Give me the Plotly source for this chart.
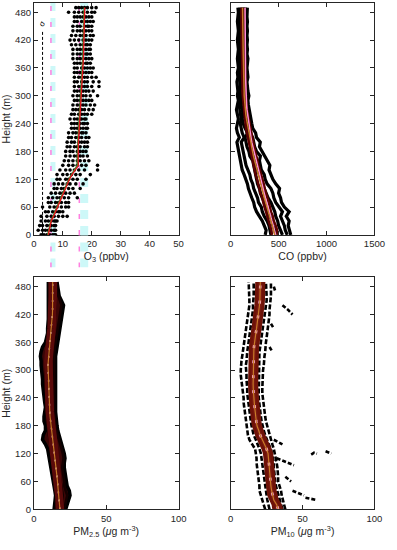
import plotly.graph_objects as go

heights = [0,10,20,30,40,50,60,70,80,90,100,110,120,130,140,150,160,170,180,190,
           200,210,220,230,240,250,260,270,280,290,300,310,320,330,340,350,360,370,380,390,
           400,410,420,430,440,450,460,470,480,490]

# ---- O3 (ppbv) individual samples (dots), 7 profiles
o3_a = [2.5,1.5,2,2.5,2.5,4,3,5,5,6,7,7,8,8,9,10,10.5,11,11,11.5,11.5,12,12,13,13,12.5,13,13.5,13.5,14,13.5,14,14,14,14,14,14,14,13.5,13.5,13.5,13,12.5,13,13.5,13.5,14,14,12,14.5]
o3_b = [3.5,3,3,4,4.5,5,5.5,6,6.5,7.5,8,8.5,9,10,11,12,12,12.5,12.5,12.5,13,13,13.5,14,14,14,14,14.5,15,15,15,15,15.5,15,15.5,15,15,15,15,15,15,14.5,14,14.5,15,15,15,15,14,15.5]
o3_c = [4.5,4,4.5,5,6,6.5,7,7.5,8,9,9.5,10,11,11.5,12.5,13.5,13.5,14,13.5,14,14,14.5,14.5,15,15,15,15.5,15.5,16,16,16,16,16.5,16.5,16.5,16,16.5,16,16,16,16,16,15.5,16,16,16,16.5,16,15.5,16.5]
o3_d = [5.5,5,5.5,6,7,7.5,8,8.5,9,10,10.5,11.5,12,13,14,15,15,15,15,15,15.5,15.5,15.5,16,16,16,16.5,16.5,17,17,17,17,17.5,17.5,17.5,17,17.5,17,17,17,17,17,17,17,17,17.5,17.5,17,17,17.5]
o3_e = [6.5,6,6,7,8.5,8.5,9.5,9.5,10.5,11,12,12.5,13.5,14.5,15.5,16.5,16,16,16,16,16.5,16.5,16.5,17,17,16.5,17.5,17.5,18,18,18,18,18.5,18.5,18.5,18,18.5,18,18,18,18,18,18,18,18,18.5,18.5,18,18.5,18.5]
o3_f = [7,7,7,7.5,10,9,11,11,12,12.5,13.5,14.5,15,16,17.5,18,17.5,17,17,17.5,17.5,18,17,18,17.5,17.5,18.5,19,19.5,19,19.5,19,20,20.5,20,19,19.5,18.5,19,18.5,19,18.5,19,19.5,19,19,19.5,19,20,20]
o3_g = [7.5,7.5,7.5,8,11.5,10,12,12,15,14,16,17,18,19.5,22,22,19,18.5,18,18.5,18.5,19,18,18.5,18.5,18,20,20.5,21,20,22,20.5,22.5,22.5,21.5,20,20.5,19.5,20,19.5,19.5,19.5,20,20.5,20,20,20.5,20,21,21.5]
o3_mean = [5,5.3,5.6,6,6.8,7.5,8.2,8.8,9.5,10.2,10.8,11.6,12.3,13.2,14.2,15.4,15.3,15.3,15.2,15.3,15.4,15.5,15.6,15.8,15.9,16,16.1,16.2,16.3,16.4,16.5,16.6,16.7,16.8,16.9,17,17,17.1,17.1,17.2,17.2,17.3,17.3,17.3,17.4,17.4,17.5,17.5,17.6,17.6]
o3_fit = [4.8,5.1,5.5,5.9,6.6,7.3,8,8.6,9.3,10,10.6,11.4,12.1,13,14,15,15,15,15,15.1,15.2,15.3,15.4,15.6,15.7,15.8,15.9,16,16.1,16.2,16.3,16.4,16.5,16.6,16.7,16.8,16.8,16.9,16.9,17,17,17.1,17.1,17.1,17.2,17.2,17.3,17.3,17.4,17.4]
o3_ref_x = [6.6, 17.4]     # light cyan dashed reference lines
o3_ref_w = [5, 8]
o3_ref2_x = [5.9, 15.7]    # pink dashed reference lines
o3_sigma_x = 3
o3_sigma_top = 440

# ---- CO (ppbv)
co_black = [
 [360,370,350,330,300,270,250,240,220,200,185,175,160,140,120,110,100,90,80,70,65,90,70,60,70,80,70,60,70,80,70,75,70,65,75,70,80,75,70,75,80,75,70,75,80,75,70,75,80,75],
 [420,410,400,380,350,330,320,290,280,260,240,230,210,200,180,160,150,140,130,120,110,140,120,110,100,110,100,95,90,100,95,90,100,95,90,100,95,90,100,95,90,100,95,90,95,100,95,90,95,100],
 [470,460,440,430,410,380,360,350,330,310,300,280,270,260,250,240,230,200,190,170,160,150,180,150,130,120,130,120,110,120,115,110,115,120,110,115,120,110,115,120,115,110,115,120,115,110,115,120,115,120],
 [540,520,500,490,470,460,440,420,390,370,350,330,320,300,280,270,260,240,230,210,200,190,170,160,180,170,150,140,150,140,135,140,130,135,140,130,135,140,130,135,140,130,135,140,130,135,140,135,130,140],
 [590,570,560,540,520,540,500,470,450,440,420,380,360,350,320,310,300,310,270,250,240,230,200,190,180,200,180,170,160,170,160,155,160,150,155,160,150,155,160,150,155,160,150,155,160,150,155,160,150,155],
 [627,610,600,610,580,610,560,530,520,500,510,470,440,420,400,409,380,350,320,300,309,270,260,230,220,210,200,190,185,180,190,180,175,170,180,175,170,175,180,170,175,170,175,170,175,170,175,170,175,174],
]
co_red = [
 [430,425,410,395,385,370,350,340,330,310,300,290,275,260,250,240,225,215,205,195,185,180,170,160,155,150,140,135,130,128,125,122,124,120,122,118,120,118,116,118,115,116,114,115,113,114,112,113,112,113],
 [490,485,470,450,440,420,410,395,380,370,355,345,330,315,300,290,280,265,255,245,235,225,215,205,195,185,178,170,165,160,158,155,156,152,153,150,151,149,150,148,147,148,146,147,145,146,144,145,144,145],
]
co_pink = [470,460,445,430,415,400,388,375,362,350,338,325,312,298,285,272,262,250,240,230,220,212,204,195,188,182,176,170,166,163,160,158,157,156,155,155,154,154,153,153,152,152,152,151,151,151,150,150,150,150]
co_mean = [460,450,435,420,405,390,378,365,350,338,325,312,300,285,272,260,250,238,228,218,208,198,190,180,172,165,158,152,147,143,141,140,138,137,136,135,134,133,132,131,130,129,128,128,127,126,126,125,125,124]

# ---- PM2.5 (ug m-3)
pm25_black = [
 [14,14.5,15,15,14.5,14,13,12.5,12,11.5,11,10.5,10,9.5,8,6,6.5,8,8,7,7,7.5,8,7.5,7,7,6.5,6,6,5.5,5,5,5,4.5,5,6,8,9,9.5,9.5,10,10,10,10,10,10,10,10,10,10],
 [15,15.5,16,16.5,16,15.5,15,14.5,14,13.5,13,12.5,12,11.5,11,10.5,10,9.5,9.5,9,9,9,9,9,8.5,8.5,8,8,8,7.5,7.5,8,8,8.5,9,9.5,10,10.5,11,11,11.5,11.5,12,12,12,12,12,12,12,12],
 [17,17,17.5,17.5,17,17,16.5,16,15.5,15,14.5,14,13.5,13,12.5,12,11.5,11,11,10.5,10.5,10.5,10,10,10,9.5,9.5,9,9,9,9,9.5,9.5,10,10,10.5,11,11.5,12,12,12.5,12.5,13,13,13,13,13,13,13,13],
 [19,19.5,20,20,19.5,19,18.5,18,17.5,17,16.5,16,15.5,15,14.5,14,13.5,13,12.5,12,12,12,11.5,11.5,11.5,11,11,11,11,10.5,10.5,11,11,11.5,12,12,12.5,13,13.5,14,14,14.5,14.5,15,15,15,15,14.5,14.5,14.5],
 [21,21.5,22,23,22,21,21,20.5,20,19.5,20,20.5,20,19,18,17,16,15.5,15,14.5,14.5,14,14,14,13.5,13.5,13.5,13.5,13.5,13.5,13.5,13.5,13.5,13.5,14,14.5,15,15.5,16,16.5,17,17.5,18,18.5,19,18,17,16,16,16],
 [22,23,24,25,24.5,23,22.5,22,21,21,21,21.5,21,20,19,18,17,16.5,16,15.5,15,15,15,15,14.5,14.5,15,15,15,14.5,14.5,14.5,14.5,15,15.5,16,16.5,17,17.5,18,18.5,19,19.5,20,20.5,19,17.5,17,16.5,16],
]
pm25_red = [
 [16.5,16.5,16,16,15.5,15,14.8,14.5,14,13.6,13.2,12.8,12.4,12,11.6,11.2,10.8,10.4,10.1,9.8,9.6,9.4,9.3,9.2,9.1,8.9,8.7,8.5,8.3,8.1,8,8.2,8.4,8.7,9.1,9.4,9.7,10,10.4,10.6,10.8,11,11.2,11.3,11.4,11.4,11.4,11.4,11.4,11.4],
 [19.6,19.4,19.2,19,18.6,18.3,17.9,17.6,17.2,16.8,16.4,16,15.6,15.2,14.8,14.4,14,13.6,13.3,13,12.8,12.6,12.5,12.4,12.3,12.1,11.9,11.7,11.5,11.3,11.2,11.4,11.6,11.9,12.3,12.6,12.9,13.2,13.6,13.8,14,14.2,14.4,14.5,14.6,14.6,14.6,14.6,14.6,14.6],
]
pm25_mean = [18,17.8,17.6,17.4,17,16.7,16.3,16,15.6,15.2,14.8,14.4,14,13.6,13.2,12.8,12.4,12,11.7,11.4,11.2,11,10.9,10.8,10.7,10.5,10.3,10.1,9.9,9.7,9.6,9.8,10,10.3,10.7,11,11.3,11.6,12,12.2,12.4,12.6,12.8,12.9,13,13,13,13,13,13]

# ---- PM10 (ug m-3)
pm10_black = [
 [24,23,22,21,20,20,19.5,19,19,18.5,18,18,17.5,17,15,13,12,11.5,11,10.5,10,10,9.5,9,9,8.5,8,8,7.5,7,7,7,7.5,8,8.5,9,9.5,10,10.5,11,11.5,12,12.5,12.5,13,13,13,12.5,12.5,12.5],
 [27,26,25.5,25,24.5,24,24,23.5,23,22.5,22,21.5,21,20,19,17.5,16,15,14.5,14,13.5,13,12.5,12,12,11.5,11.5,11,11,11,10.5,10.5,11,11,11.5,12,12.5,13,13.5,14,14.5,15,15,15.5,15.5,16,16,16,16,16],
 [36,35,34,33,32,31.5,31,30.5,30,30,30,29.5,29,28,26.5,25,24,23,22,21.5,21,20.5,20,20,19.5,19.5,19.5,19.5,19.5,19.5,19.5,19.5,19.5,20,20,20.5,21,21.5,22,22.5,23,23.5,24,24.5,25,25,25,25,24.5,24.5],
 [38,37,36,35.5,35,34,33,33,33,32.5,32,31.5,31,30,29,28,27,26,25,24.5,24,23.5,23,22.5,22.5,22,22,22,22,22,22.5,23,23,23.5,24,24,24.5,25,25.5,26,26,26.5,27,27,27.5,28,28,28,28,28],
]
pm10_red = [
 [30,29.5,28,26.5,26,25.5,25.2,25,24.7,24.5,24.3,24,23.5,22.5,21,19.2,18,17,15.8,15.3,14.8,14.5,14.2,13.9,13.5,13.3,13.2,13.1,13.1,13.2,13.2,13.3,13.4,13.5,13.6,13.7,14,14.5,15,15.5,16,16.5,17,17.3,17.5,17.8,18,18.1,18.1,18.1],
 [35.5,34.5,32.5,31.5,31,30.5,30.2,30,29.7,29.5,29.3,29,28.5,27.5,26,24.2,23,22,20.8,20.3,19.8,19.5,19.2,18.9,18.5,18.3,18.2,18.1,18.1,18.2,18.2,18.3,18.4,18.5,18.6,18.7,19,19.5,20,20.5,21,21.5,22,22.3,22.5,22.8,23,23.1,23.1,23.1],
]
pm10_mean = [33,32,30,29,28.5,28,27.7,27.5,27.2,27,26.8,26.5,26,25,23.5,21.7,20.5,19.5,18.3,17.8,17.3,17,16.7,16.4,16,15.8,15.7,15.6,15.6,15.7,15.7,15.8,15.9,16,16.1,16.2,16.5,17,17.5,18,18.5,19,19.5,19.8,20,20.3,20.5,20.6,20.6,20.6]
pm10_out_x = [56,58,60,None,66,68,70,None,30,33,36,None,32,36,40,44,None,43,47,51,None,52,56,60,None,36,40,43,None,28,30,None,27,29,None,30,31,None,38,42]
pm10_out_y = [118,122,120,None,125,122,120,None,150,145,140,None,110,105,100,95,None,40,35,30,None,25,22,20,None,440,430,420,None,400,390,None,350,340,None,480,470,None,70,60]

y_ticks = [0,60,120,180,240,300,360,420,480]

BLACK = '#000000'
DRED = '#5c0000'
ORANGE = '#c87a28'
PINK = '#ff8fd6'
AX = '#262626'
FONT = 'Liberation Sans, Arial, sans-serif'

fig = go.Figure()

def line(x, y, color, width, xa, ya, dash=None, opacity=1, fill=None, fillcolor=None):
    fig.add_trace(go.Scatter(x=x, y=y, mode='lines', xaxis=xa, yaxis=ya, opacity=opacity,
                             line=dict(color=color, width=width, dash=dash), hoverinfo='skip',
                             fill=fill, fillcolor=fillcolor, showlegend=False))

# --- O3 panel
for xv, w in zip(o3_ref_x, o3_ref_w):
    line([xv, xv], [0, 500], '#cdf8f8', w, 'x', 'y', dash='9px,7px')
for xv in o3_ref2_x:
    line([xv, xv], [0, 500], '#ff80e0', 1.5, 'x', 'y', dash='5px,11px')
line([o3_sigma_x, o3_sigma_x], [0, o3_sigma_top], BLACK, 1, 'x', 'y', dash='3px,2px')
o3_x = []
o3_y = []
for prof in [o3_a, o3_b, o3_c, o3_d, o3_e, o3_f, o3_g]:
    o3_x += prof
    o3_y += heights
fig.add_trace(go.Scatter(x=o3_x, y=o3_y, mode='markers', xaxis='x', yaxis='y',
                         marker=dict(color=BLACK, size=3.6), hoverinfo='skip', showlegend=False))
line(o3_fit, heights, '#3f8f2f', 1.6, 'x', 'y')
line(o3_mean, heights, '#e3151d', 1.4, 'x', 'y')
# extension of the reference dashes below the panel
for xv, w in zip(o3_ref_x, o3_ref_w):
    line([xv, xv], [0, 1], '#cdf8f8', w, 'x5', 'y5', dash='9px,7px')
for xv in o3_ref2_x:
    line([xv, xv], [0, 1], '#ff80e0', 1.5, 'x5', 'y5', dash='5px,11px')

# --- CO panel
for prof in co_black:
    line(prof, heights, BLACK, 3.2, 'x2', 'y2')
for prof in co_red:
    line(prof, heights, DRED, 2.5, 'x2', 'y2')
line(co_pink, heights, PINK, 1.5, 'x2', 'y2')
line(co_mean, heights, ORANGE, 1.5, 'x2', 'y2')

# --- PM2.5 panel
line(pm25_black[0], heights, BLACK, 3.5, 'x3', 'y3')
line(pm25_black[-1], heights, BLACK, 3.5, 'x3', 'y3', fill='tonextx', fillcolor='#3a0606')
for prof in pm25_black[1:-1]:
    line(prof, heights, '#140000', 2.5, 'x3', 'y3')
for prof in pm25_red:
    line(prof, heights, '#5a0a0a', 4, 'x3', 'y3')
line(pm25_mean, heights, '#ffd0ee', 1.4, 'x3', 'y3', dash='2px,6px')
line(pm25_mean, heights, ORANGE, 1.2, 'x3', 'y3')

# --- PM10 panel
for prof in pm10_black:
    line(prof, heights, BLACK, 2.6, 'x4', 'y4', dash='5px,2px')
line(pm10_out_x, pm10_out_y, BLACK, 2.6, 'x4', 'y4', dash='4px,2px')
line(pm10_red[0], heights, '#6e1208', 3, 'x4', 'y4')
line(pm10_red[1], heights, '#6e1208', 3, 'x4', 'y4', fill='tonextx', fillcolor='#7a1a10')
line(pm10_mean, heights, '#ffb8e0', 2.5, 'x4', 'y4', dash='3px,12px')
line(pm10_mean, heights, ORANGE, 1.2, 'x4', 'y4')

fig.add_annotation(x=o3_sigma_x, y=o3_sigma_top + 15, xref='x', yref='y', text='σ',
                   showarrow=False, textangle=-60, font=dict(size=8, color=BLACK, family=FONT))

def axis(domain, rng, tickvals, showlabels, title, anchor):
    return dict(domain=domain, range=rng, tickvals=tickvals, showticklabels=showlabels,
                title=dict(text=title, font=dict(size=10.5, color=AX, family=FONT), standoff=4),
                showline=True, linecolor=AX, linewidth=1, mirror='ticks', ticks='inside',
                ticklen=4, tickcolor=AX, tickwidth=1, showgrid=False, zeroline=False,
                tickfont=dict(size=9.5, color=AX, family=FONT), anchor=anchor)

xl = [0.0806, 0.4584]
xr = [0.5945, 0.9698]
yt = [0.569, 0.9945]
yb = [0.0655, 0.491]

fig.update_layout(
    width=397, height=550, margin=dict(l=0, r=0, t=0, b=0),
    paper_bgcolor='white', plot_bgcolor='rgba(0,0,0,0)', showlegend=False,
    font=dict(family=FONT, color=AX),
    xaxis=axis(xl, [0, 50], [0, 10, 20, 30, 40, 50], True, 'O<sub>3</sub> (ppbv)', 'y'),
    yaxis=axis(yt, [0, 500], y_ticks, True, 'Height (m)', 'x'),
    xaxis2=axis(xr, [0, 1500], [0, 500, 1000, 1500], True, 'CO (ppbv)', 'y2'),
    yaxis2=axis(yt, [0, 500], y_ticks, False, '', 'x2'),
    xaxis3=axis(xl, [0, 100], [0, 50, 100], True, 'PM<sub>2.5</sub> (<i>μ</i>g m<sup>-3</sup>)', 'y3'),
    yaxis3=axis(yb, [0, 500], y_ticks, True, 'Height (m)', 'x3'),
    xaxis4=axis(xr, [0, 100], [0, 50, 100], True, 'PM<sub>10</sub> (<i>μ</i>g m<sup>-3</sup>)', 'y4'),
    yaxis4=axis(yb, [0, 500], y_ticks, False, '', 'x4'),
    xaxis5=dict(domain=xl, range=[0, 50], visible=False, anchor='y5'),
    yaxis5=dict(domain=[0.509, 0.569], range=[0, 1], visible=False, anchor='x5'),
)

fig.write_html('out.html', config={'displayModeBar': False},
               post_script="document.body.style.margin='0';document.body.style.overflow='hidden';")
